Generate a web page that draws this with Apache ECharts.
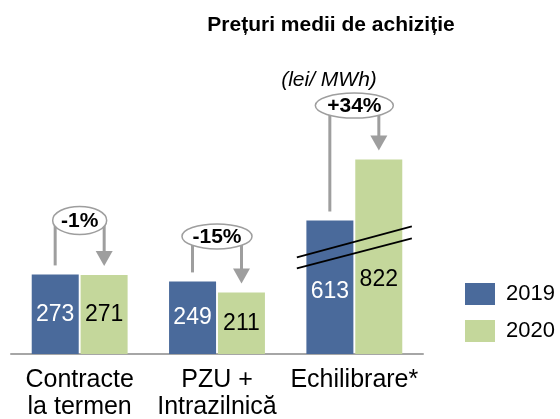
<!DOCTYPE html>
<html>
<head>
<meta charset="utf-8">
<title>Prețuri medii de achiziție</title>
<script src="https://cdn.jsdelivr.net/npm/echarts@6/dist/echarts.min.js"></script>
<style>
    html, body { margin: 0; padding: 0; background: #fff; }
    #main { width: 560px; height: 419px; }
</style>
</head>
<body>
<div id="main"></div>
<script type="text/javascript">

    // date grafic
    var categorii = ['Contracte\nla termen', 'PZU +\nIntrazilnică', 'Echilibrare*'];
    var ani = ['2019', '2020'];
    var pret2019 = [273, 249, 613];
    var pret2020 = [271, 211, 822];
    var variatii = ['-1%', '-15%', '+34%'];

    // axa Y este rupta (ca in original) intre aceste valori
    var rupturaStart = 365;
    var rupturaEnd = 520;

    // stiluri
    var albastru = '#4a6a9b';
    var verde = '#c4d79b';
    var gri = '#9e9e9e';
    var font = '"Liberation Sans", Arial, sans-serif';
    var razaX = [27, 35, 39];      // latimea elipselor
    var razaY = [14, 12.5, 12.5];
    var ridicare = [54, 45, 54];   // cat de sus stau elipsele fata de bara cea mai inalta
    var pozEtichete2019 = [null, null, ['50%', '53%']];
    var pozEtichete2020 = [null, null, ['50%', '62%']];

    function dateBare(valori, poz, culoareText) {
        return valori.map(function (v, i) {
            if (!poz[i]) return v;
            return { value: v, label: { position: poz[i], align: 'center', verticalAlign: 'middle', color: culoareText } };
        });
    }

    function desenAdnotare(params, api) {
        var i = api.value(0);
        var cx = api.coord([i, 0])[0];
        var xs = cx - 24.5, xd = cx + 24.5;
        var ys = api.coord([i, api.value(1)])[1];
        var yd = api.coord([i, api.value(2)])[1];
        var ye = Math.min(ys, yd) - ridicare[i];
        var varf = yd - 9;
        var copii = [
            { type: 'line', shape: { x1: xs, y1: ye, x2: xs, y2: ys - 9 }, style: { stroke: gri, lineWidth: 3 } },
            { type: 'line', shape: { x1: xd, y1: ye, x2: xd, y2: varf - 12 }, style: { stroke: gri, lineWidth: 3 } },
            { type: 'polygon', shape: { points: [[xd - 8.5, varf - 15], [xd + 8.5, varf - 15], [xd, varf]] }, style: { fill: gri } },
            { type: 'ellipse', shape: { cx: cx, cy: ye, rx: razaX[i], ry: razaY[i] }, style: { fill: '#fff', stroke: gri, lineWidth: 1.5 } },
            { type: 'text', x: cx, y: ye + 1, style: { text: variatii[i], fill: '#000', font: 'bold 21px ' + font, align: 'center', verticalAlign: 'middle' } }
        ];
        // semnul de ruptura pe grupul Echilibrare
        if (i === 2) {
            var y0 = api.coord([i, rupturaStart])[1];
            copii.push({ type: 'line', shape: { x1: cx - 57.5, y1: y0 + 9.75, x2: cx + 57.5, y2: y0 - 21.25 }, style: { stroke: '#000', lineWidth: 1.8 } });
            copii.push({ type: 'line', shape: { x1: cx - 57.5, y1: y0 + 20.75, x2: cx + 57.5, y2: y0 - 9.25 }, style: { stroke: '#000', lineWidth: 1.8 } });
        }
        return { type: 'group', children: copii };
    }

    var myChart = echarts.init(document.getElementById('main'));

    var option = {
        animation: false,
        textStyle: { fontFamily: font },
        graphic: [
            { type: 'text', x: 331, y: 25, style: { text: 'Prețuri medii de achiziție', font: 'bold 21px ' + font, fill: '#000', align: 'center', verticalAlign: 'middle' } },
            { type: 'text', x: 329, y: 80, style: { text: '(lei/ MWh)', font: 'italic 21px ' + font, fill: '#000', align: 'center', verticalAlign: 'middle' } }
        ],
        legend: {
            data: ani,
            orient: 'vertical',
            left: 465,
            top: 283,
            padding: 0,
            itemWidth: 30,
            itemHeight: 22,
            itemGap: 15,
            icon: 'rect',
            selectedMode: false,
            textStyle: { fontSize: 22, color: '#000', padding: [0, 0, 0, 6] }
        },
        grid: { left: 11, right: 137, top: 148.5, bottom: 65, containLabel: false, outerBoundsMode: 'none' },
        xAxis: {
            type: 'category',
            data: categorii,
            axisLine: { lineStyle: { color: '#a6a6a6', width: 2 } },
            axisTick: { show: false },
            axisLabel: { interval: 0, fontSize: 25, lineHeight: 27, color: '#000', margin: 13 }
        },
        yAxis: {
            type: 'value',
            min: 0,
            max: 860,
            breaks: [{ start: rupturaStart, end: rupturaEnd, gap: 0 }],
            breakArea: { show: false },
            axisLine: { show: false },
            axisTick: { show: false },
            axisLabel: { show: false },
            splitLine: { show: false }
        },
        series: [
            {
                name: '2019',
                type: 'bar',
                barWidth: 47,
                barGap: '4%',
                itemStyle: { color: albastru },
                label: { show: true, position: 'inside', fontSize: 23, color: '#fff' },
                data: dateBare(pret2019, pozEtichete2019, '#fff')
            },
            {
                name: '2020',
                type: 'bar',
                barWidth: 47,
                itemStyle: { color: verde },
                label: { show: true, position: 'inside', fontSize: 23, color: '#000' },
                data: dateBare(pret2020, pozEtichete2020, '#000')
            },
            {
                type: 'custom',
                z: 5,
                silent: true,
                renderItem: desenAdnotare,
                encode: { x: 0, y: [1, 2] },
                data: categorii.map(function (c, i) { return [i, pret2019[i], pret2020[i]]; })
            }
        ]
    };

    myChart.setOption(option);

</script>
</body>
</html>
